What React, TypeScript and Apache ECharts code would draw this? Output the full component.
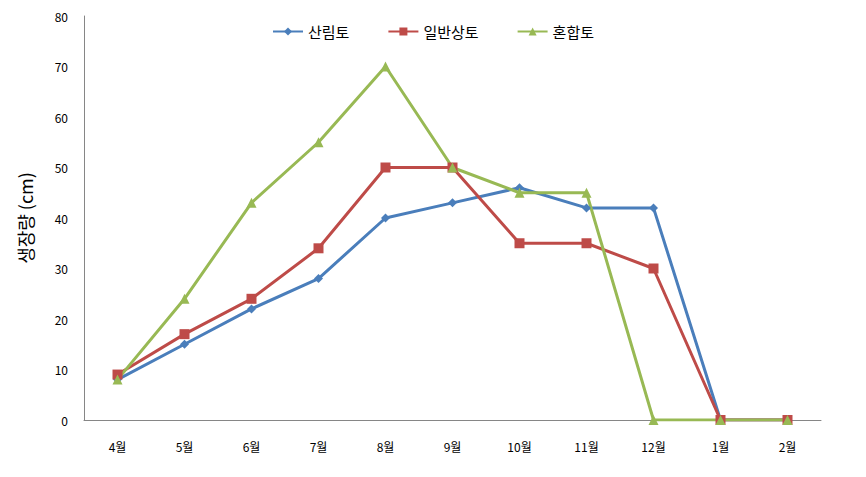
import React, { useEffect, useRef } from "react";
import * as echarts from "echarts";

const categories = ["4월", "5월", "6월", "7월", "8월", "9월", "10월", "11월", "12월", "1월", "2월"];
const forestSoil = [8, 15, 22, 28, 40, 43, 46, 42, 42, 0, 0];
const generalSoil = [9, 17, 24, 34, 50, 50, 35, 35, 30, 0, 0];
const mixedSoil = [8, 24, 43, 55, 70, 50, 45, 45, 0, 0, 0];
const seriesNames = ["산림토", "일반상토", "혼합토"];
const colors = ["#4a7ebb", "#be4b48", "#98b954"];

export default function App() {
  const ref = useRef<HTMLDivElement>(null);
  useEffect(() => {
    if (!ref.current) return;
    const chart = echarts.init(ref.current, undefined, { renderer: "svg" });
    const font = "'Malgun Gothic', 'Noto Sans CJK KR', sans-serif";
    const mk = (name: string, data: number[], color: string, symbol: string, size: number) => ({
      name,
      type: "line",
      data,
      symbol,
      symbolSize: size,
      showSymbol: true,
      lineStyle: { color, width: 3 },
      itemStyle: { color },
    });
    chart.setOption({
      animation: false,
      textStyle: { fontFamily: font },
      legend: {
        top: 11,
        left: "center",
        itemGap: 38,
        itemWidth: 30,
        itemHeight: 10,
        textStyle: { fontSize: 15, color: "#000", fontFamily: font },
        data: seriesNames,
      },
      grid: { left: 73, right: 37, top: 8, bottom: 49 },
      xAxis: {
        type: "category",
        data: categories,
        boundaryGap: true,
        axisLine: { lineStyle: { color: "#868686", width: 1 } },
        axisTick: { show: false },
        axisLabel: { color: "#000", fontSize: 12, margin: 20, fontFamily: font },
      },
      yAxis: {
        type: "value",
        min: 0,
        max: 80,
        interval: 10,
        name: "생장량 (cm)",
        nameLocation: "middle",
        nameGap: 50,
        nameRotate: 90,
        nameTextStyle: { fontSize: 18, color: "#000", fontFamily: font },
        axisLine: { show: true, lineStyle: { color: "#868686", width: 1 } },
        axisTick: { show: false },
        splitLine: { show: false },
        axisLabel: { color: "#000", fontSize: 12, margin: 16, fontFamily: font },
      },
      series: [
        mk(seriesNames[0], forestSoil, colors[0], "diamond", 9),
        mk(seriesNames[1], generalSoil, colors[1], "rect", 10),
        mk(seriesNames[2], mixedSoil, colors[2], "triangle", 10),
      ],
    });
    return () => chart.dispose();
  }, []);
  return <div ref={ref} style={{ width: 850, height: 461 }} />;
}
